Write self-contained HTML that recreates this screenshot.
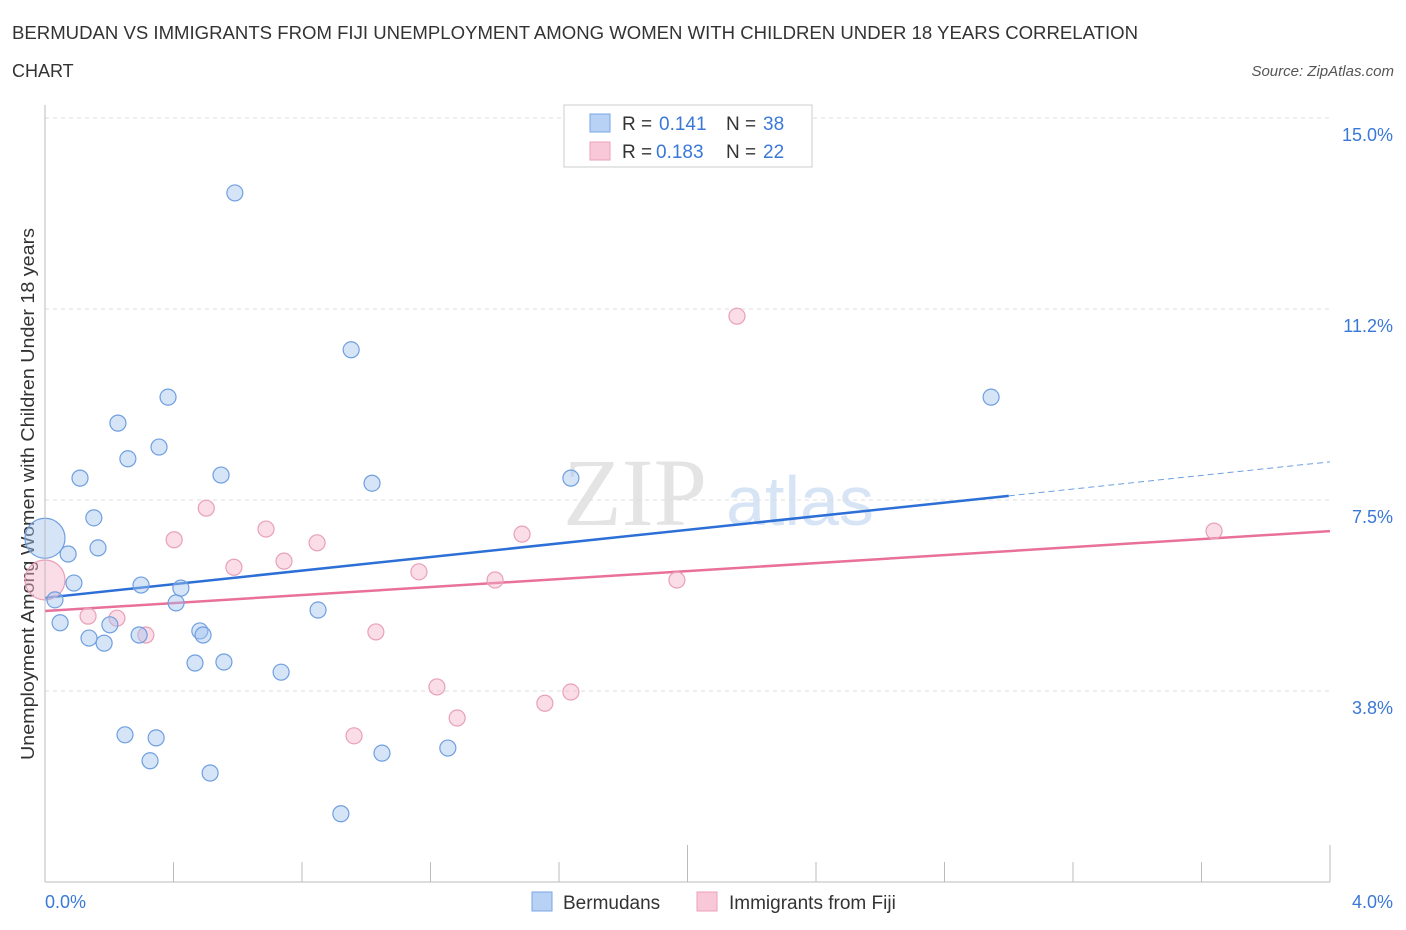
<!DOCTYPE html>
<html><head><meta charset="utf-8"><style>
body{margin:0;background:#fff;font-family:"Liberation Sans",sans-serif;}
svg{display:block}
</style></head><body>
<svg id="chart" width="1406" height="930" xmlns="http://www.w3.org/2000/svg">
<text x="12" y="39" font-size="18" fill="#333" textLength="1126" lengthAdjust="spacingAndGlyphs">BERMUDAN VS IMMIGRANTS FROM FIJI UNEMPLOYMENT AMONG WOMEN WITH CHILDREN UNDER 18 YEARS CORRELATION</text>
<text x="12" y="77" font-size="18" fill="#333">CHART</text>
<text x="1394" y="76" font-size="15" fill="#555" font-style="italic" text-anchor="end">Source: ZipAtlas.com</text>
<text x="635" y="525" font-size="96" fill="#e4e4e4" font-family="Liberation Serif,serif" text-anchor="middle">ZIP</text>
<text x="800" y="525" font-size="70" fill="#d6e4f6" text-anchor="middle">atlas</text>
<text transform="translate(34,494) rotate(-90)" font-size="18" fill="#333" text-anchor="middle" textLength="532" lengthAdjust="spacingAndGlyphs">Unemployment Among Women with Children Under 18 years</text>
<g id="grid"></g><g id="ticks"></g><g id="trends"></g><g id="pts"></g>
<line x1="45" y1="105" x2="45" y2="882" stroke="#bbb"/>
<line x1="45" y1="882" x2="1330" y2="882" stroke="#bbb"/>
<text x="45" y="908" font-size="18" fill="#3a78d8">0.0%</text>
<text x="1393" y="908" font-size="18" fill="#3a78d8" text-anchor="end">4.0%</text>
<g>
<rect x="564" y="105" width="248" height="62" fill="#fff" stroke="#ccc"/>
<rect x="590" y="114" width="20" height="18" fill="#b8d2f5" stroke="#7aa6e4"/>
<rect x="590" y="142" width="20" height="18" fill="#f8c8d8" stroke="#eaa0b8"/>
<text x="622" y="130" font-size="19" fill="#333">R = </text><text x="659" y="130" font-size="19" fill="#3a78d8">0.141</text>
<text x="726" y="130" font-size="19" fill="#333">N = </text><text x="763" y="130" font-size="19" fill="#3a78d8">38</text>
<text x="622" y="158" font-size="19" fill="#333">R = </text><text x="656" y="158" font-size="19" fill="#3a78d8">0.183</text>
<text x="726" y="158" font-size="19" fill="#333">N = </text><text x="763" y="158" font-size="19" fill="#3a78d8">22</text>
</g>
<g>
<rect x="532" y="892" width="20" height="19" fill="#b8d2f5" stroke="#7aa6e4"/>
<text x="563" y="909" font-size="19" fill="#333">Bermudans</text>
<rect x="697" y="892" width="20" height="19" fill="#f8c8d8" stroke="#eaa0b8"/>
<text x="729" y="909" font-size="19" fill="#333">Immigrants from Fiji</text>
</g>
</svg>
<script>
const yTicks=[3.75,7.5,11.25,15];
const yTickLabels=["3.8%","7.5%","11.2%","15.0%"];
const xTicks=[0,0.4,0.8,1.2,1.6,2.0,2.4,2.8,3.2,3.6,4.0];
const blueX=[0,0.031,0.047,0.072,0.09,0.109,0.137,0.152,0.165,0.184,0.202,0.227,0.249,0.258,0.293,0.299,0.327,0.346,0.355,0.383,0.408,0.423,0.467,0.482,0.492,0.514,0.548,0.557,0.591,0.735,0.85,0.921,0.953,1.018,1.049,1.254,1.637,2.945];
const blueY=[6.75,5.54,5.09,6.44,5.87,7.93,4.79,7.15,6.56,4.69,5.05,9.01,2.89,8.31,4.85,5.83,2.38,2.83,8.54,9.52,5.48,5.77,4.30,4.93,4.85,2.14,7.99,4.32,13.53,4.12,5.34,1.34,10.45,7.83,2.53,2.63,7.93,9.52];
const pinkX=[0,0.134,0.224,0.314,0.402,0.502,0.588,0.688,0.744,0.847,0.962,1.03,1.164,1.22,1.283,1.401,1.485,1.556,1.637,1.967,2.154,3.639];
const pinkY=[5.93,5.22,5.18,4.85,6.72,7.34,6.18,6.93,6.30,6.66,2.87,4.91,6.09,3.83,3.22,5.93,6.83,3.51,3.73,5.93,11.11,6.89];
const blueTrend=[5.58,8.25];
const pinkTrend=[5.32,6.89];
const blueSolidEnd=3.0;
const NS="http://www.w3.org/2000/svg";
const sx=v=>45+v*321.25, sy=v=>882-v*50.93;
function mk(p,t,a){const e=document.createElementNS(NS,t);for(const k in a)e.setAttribute(k,a[k]);p.appendChild(e);return e;}
const grid=document.getElementById('grid');
yTicks.forEach((t,i)=>{
 const l=mk(grid,'line',{x1:45,x2:1330,y1:sy(t),y2:sy(t),stroke:'#ddd','stroke-dasharray':'4,4'});
 
 
 const tx=mk(grid,'text',{x:1393,y:sy(t)+23,'font-size':18,fill:'#3a78d8','text-anchor':'end'});
 tx.textContent=yTickLabels[i];
 
 
});
const tk=document.getElementById('ticks');
xTicks.forEach((t,i)=>{
 const l=mk(tk,'line',{x1:sx(t),x2:sx(t),y1:882,y2:(i==5||i==10)?845:862,stroke:'#bbb'});
 
 
});
const tr=document.getElementById('trends');
const ty=(a,x)=>a[0]+(a[1]-a[0])*x/4;
let l1=mk(tr,'line',{x1:sx(0),y1:sy(blueTrend[0]),x2:sx(blueSolidEnd),y2:sy(ty(blueTrend,blueSolidEnd)),stroke:'#2c6fd6','stroke-width':2.5});


let l2=mk(tr,'line',{x1:sx(blueSolidEnd),y1:sy(ty(blueTrend,blueSolidEnd)),x2:sx(4),y2:sy(blueTrend[1]),stroke:'#6f9fe0','stroke-width':1,'stroke-dasharray':'6,4'});


let l3=mk(tr,'line',{x1:sx(0),y1:sy(pinkTrend[0]),x2:sx(4),y2:sy(pinkTrend[1]),stroke:'#e8709a','stroke-width':2.5});


const pts=document.getElementById('pts');
pinkX.forEach((x,i)=>{
 const c=mk(pts,'circle',{cx:sx(x),cy:sy(pinkY[i]),r:i==0?20:8,fill:'rgba(244,180,200,0.45)',stroke:'#e8a0b8','stroke-width':1.2});
 
 
});
blueX.forEach((x,i)=>{
 const c=mk(pts,'circle',{cx:sx(x),cy:sy(blueY[i]),r:i==0?20:8,fill:'rgba(164,196,240,0.45)',stroke:'#6f9fe0','stroke-width':1.2});
 
 
});
</script>
</body></html>
